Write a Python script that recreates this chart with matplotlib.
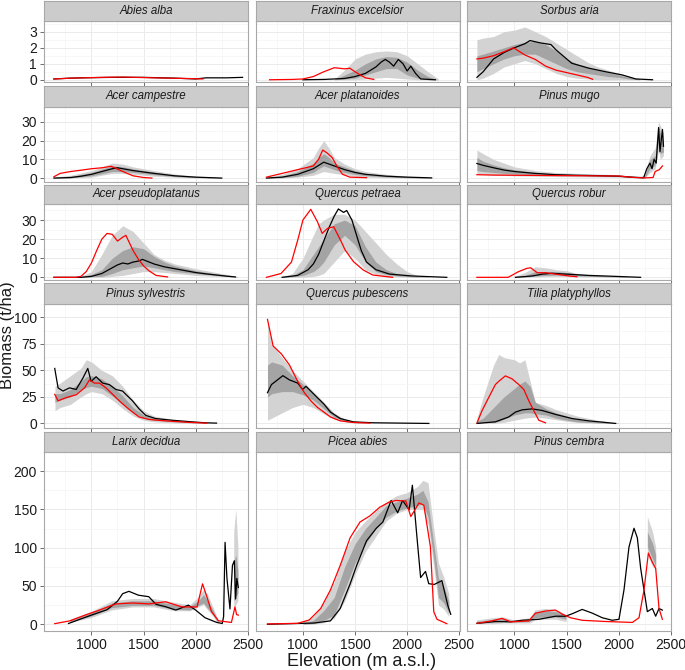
import numpy as np
import matplotlib
matplotlib.use("Agg")
import matplotlib.pyplot as plt

plt.rcParams["font.family"] = ["Liberation Sans", "DejaVu Sans"]

NAN = float("nan")

# (elevation, biomass) for the two model lines, and
# (elevation, outer low, inner low, inner high, outer high) for the bands
abies_black = [(640, 0.05), (800, 0.1), (900, 0.12), (1200, 0.15), (1500, 0.15), (1800, 0.1),
               (2000, 0.05), (2100, 0.12), (2300, 0.12), (2450, 0.15)]
abies_red = [(640, 0.05), (800, 0.1), (1100, 0.15), (1300, 0.17), (1600, 0.12), (1900, 0.08), (2070, 0.05)]
abies_band = []

fraxinus_black = [(1000, 0), (1200, 0.02), (1400, 0.08), (1500, 0.2), (1600, 0.4), (1700, 0.8), (1750, 1.1),
                  (1790, 1.27), (1830, 1.1), (1870, 0.85), (1915, 1.27), (1960, 1.0), (2000, 0.55),
                  (2035, 0.85), (2080, 0.4), (2130, 0.05), (2270, 0)]
fraxinus_red = [(680, 0), (900, 0.02), (1000, 0.05), (1100, 0.2), (1200, 0.5), (1300, 0.75), (1350, 0.72),
                (1400, 0.68), (1450, 0.72), (1500, 0.5), (1550, 0.3), (1600, 0.12), (1680, 0.02)]
fraxinus_band = [(1300, 0, 0, 0.02, 0.05), (1400, 0, 0.05, 0.3, 0.6), (1500, 0, 0.1, 0.6, 1.3),
                 (1600, 0.05, 0.3, 1.0, 1.6), (1700, 0.1, 0.5, 1.3, 1.75), (1800, 0.15, 0.7, 1.45, 1.8),
                 (1900, 0.1, 0.7, 1.4, 1.75), (2000, 0.05, 0.3, 1.1, 1.5), (2100, 0, 0.1, 0.6, 1.0),
                 (2200, 0, 0, 0.2, 0.5), (2300, 0, 0, 0, 0.05)]

sorbus_black = [(640, 0.15), (700, 0.5), (800, 1.3), (900, 1.7), (1000, 2.0), (1100, 2.25), (1150, 2.45),
                (1250, 2.3), (1350, 2.2), (1400, 1.86), (1550, 1.03), (1710, 0.73), (1875, 0.5),
                (2035, 0.3), (2165, 0.05), (2325, 0)]
sorbus_red = [(640, 1.3), (700, 1.35), (800, 1.5), (900, 1.75), (990, 2.0), (1100, 1.55), (1200, 1.27),
              (1300, 0.85), (1400, 0.6), (1500, 0.45), (1600, 0.3), (1700, 0.15), (1750, 0.03)]
sorbus_band = [(640, 0, 0.5, 1.5, 2.5), (700, 0.1, 0.7, 1.6, 2.6), (800, 0.4, 1.0, 1.8, 2.7),
               (900, 0.8, 1.3, 2.0, 3.0), (1000, 1.0, 1.5, 2.2, 3.1), (1100, 1.2, 1.6, 2.35, 3.3),
               (1200, 1.0, 1.6, 2.4, 3.0), (1300, 0.7, 1.3, 2.2, 2.7), (1400, 0.4, 1.0, 1.8, 2.3),
               (1500, 0.2, 0.7, 1.3, 1.9), (1600, 0.1, 0.5, 1.0, 1.5), (1700, 0.05, 0.4, 0.8, 1.1),
               (1800, 0, 0.3, 0.6, 0.8), (1900, 0, 0.2, 0.45, 0.6), (2000, 0, 0.15, 0.3, 0.4),
               (2100, 0, 0.05, 0.15, 0.2), (2200, 0, 0, 0.05, 0.05)]

campestre_black = [(640, 0), (800, 0.3), (900, 1), (1000, 2), (1100, 3.5), (1200, 5), (1250, 5.5),
                   (1400, 4), (1600, 2.5), (1800, 1.2), (2000, 0.5), (2250, 0)]
campestre_red = [(640, 0.7), (700, 2.5), (800, 3.5), (900, 4.2), (1000, 5.0), (1100, 5.5), (1190, 6.3),
                 (1250, 4.8), (1300, 3.5), (1400, 1.2), (1500, 0.3), (1580, 0)]
campestre_band = [(640, 0, 0, 0.2, 0.5), (800, 0, 0.1, 0.8, 1.5), (1000, 0.5, 1.2, 3, 4),
                  (1200, 2.5, 3.5, 6.5, 8), (1300, 2.5, 3.5, 6, 7.5), (1400, 2, 3, 5, 6),
                  (1600, 1, 1.8, 3.2, 4), (1800, 0.5, 0.8, 1.6, 2.2), (2000, 0.1, 0.3, 0.8, 1),
                  (2250, 0, 0, 0.1, 0.2)]

platanoides_black = [(650, 0), (800, 0.5), (950, 2), (1100, 5), (1200, 8.5), (1300, 6.5), (1400, 4.5),
                     (1500, 3), (1600, 2), (1800, 1), (2000, 0.5), (2235, 0.1)]
platanoides_red = [(650, 0.5), (800, 2.5), (950, 4.5), (1100, 6.5), (1150, 10), (1190, 15), (1230, 13.5),
                   (1280, 11), (1330, 6), (1380, 2), (1450, 0.5), (1610, 0.2)]
platanoides_band = [(650, 0, 0, 0.2, 0.5), (800, 0, 0.2, 1, 2), (950, 0.5, 1, 3.5, 5), (1100, 1.5, 3, 8, 11),
                    (1150, 2.5, 5, 11, 16), (1200, 3.5, 6.5, 13, 20), (1250, 3, 5.5, 11, 16),
                    (1300, 2.5, 4.5, 8, 11), (1400, 1.8, 3, 6, 7.5), (1500, 1, 2, 4, 5),
                    (1600, 0.5, 1.3, 2.6, 3.5), (1800, 0.2, 0.6, 1.3, 2), (2000, 0, 0.2, 0.7, 1),
                    (2235, 0, 0, 0.1, 0.2)]

mugo_black = [(640, 7.8), (700, 6.8), (800, 5.5), (900, 4.3), (1000, 3.5), (1100, 3.0), (1200, 2.5),
              (1400, 1.8), (1600, 1.5), (1800, 1.3), (2000, 1.0), (2100, 0.6), (2200, 0.3), (2240, 0.2),
              (2270, 5), (2300, 8), (2320, 5), (2340, 10), (2360, 8), (2383, 27), (2396, 14), (2420, 26),
              (2430, 17)]
mugo_red = [(640, 1.8), (800, 1.6), (1000, 1.5), (1500, 1.3), (2000, 1.1), (2150, 0.3), (2250, 0.1),
            (2330, 0.3), (2350, 3.5), (2390, 4.5), (2420, 6.5)]
mugo_band = [(640, 2, 4, 11, 15), (700, 2, 3.5, 9, 13), (800, 1.5, 3, 7, 10), (900, 1.5, 2.5, 5.5, 8),
             (1000, 1.2, 2.2, 4.5, 6), (1200, 1, 1.8, 3, 4), (1400, 0.8, 1.3, 2.2, 3),
             (1600, 0.7, 1.2, 1.8, 2.5), (2000, 0.5, 0.8, 1.3, 1.8), (2200, 0, 0.1, 0.4, 0.6),
             (2250, 0, 0, 1, 2), (2300, 3, 5, 10, 12), (2350, 5, 7, 12, 16), (2383, 15, 20, 28, 30),
             (2400, 10, 13, 24, 28), (2430, 12, 14, 20, 24)]

pseudoplatanus_black = [(640, 0), (900, 0), (1000, 0.5), (1100, 2), (1200, 5), (1250, 6.5), (1300, 7.5),
                        (1350, 7), (1400, 8), (1450, 8.5), (1490, 9.4), (1600, 7), (1700, 5.5), (1800, 4.5),
                        (1900, 3.5), (2000, 2.5), (2100, 1.8), (2200, 1.2), (2300, 0.6), (2380, 0.2)]
pseudoplatanus_red = [(640, 0), (850, 0), (900, 0.5), (950, 3), (1000, 7.5), (1050, 14), (1100, 20),
                      (1150, 23), (1200, 22.5), (1250, 19), (1300, 21), (1330, 22), (1400, 14), (1450, 9.5),
                      (1500, 6), (1550, 3.5), (1620, 1), (1730, 0.2)]
pseudoplatanus_band = [(900, 0, 0, 0.3, 0.5), (1000, 0, 0.3, 1.5, 3), (1100, 0, 0.5, 4, 12),
                       (1200, 0.5, 2, 10, 22), (1300, 1, 4, 14, 27), (1400, 2, 5, 16, 24),
                       (1500, 3, 6, 15, 18), (1600, 3, 5, 11, 12), (1700, 2.5, 4, 8, 9), (1800, 2, 3, 6, 7),
                       (2000, 1, 2, 3.5, 4.5), (2200, 0.5, 1, 1.8, 2.5), (2400, 0, 0.1, 0.3, 0.5)]

petraea_black = [(800, 0), (950, 1), (1050, 4), (1100, 7), (1150, 12), (1200, 19), (1250, 26), (1300, 32),
                 (1340, 35.8), (1390, 34), (1420, 35), (1470, 30), (1520, 21), (1560, 14), (1610, 8),
                 (1700, 4), (1830, 1.7), (2050, 0.7), (2380, 0)]
petraea_red = [(650, 0), (790, 2), (890, 8), (950, 19.5), (1000, 30), (1075, 35.6), (1140, 29), (1185, 23),
               (1235, 25.6), (1295, 26.5), (1360, 19.5), (1405, 14.3), (1485, 8.2), (1580, 3.8),
               (1670, 1.2), (1860, 0)]
petraea_band = [(800, 0, 0, 0.3, 0.5), (900, 0, 0.3, 1, 2), (1000, 0, 1, 4, 10), (1100, 0.5, 3, 12, 22),
                (1150, 1, 5, 16, 28), (1200, 2, 8, 20, 30), (1300, 8, 17, 28, 33), (1400, 14, 22, 30, 33),
                (1500, 10, 17, 27, 30), (1600, 4, 8, 16, 24), (1700, 1.5, 3, 8, 18),
                (1800, 0.5, 1.5, 4, 12), (1900, 0.2, 0.8, 2, 7), (2000, 0, 0.4, 1, 3),
                (2100, 0, 0.1, 0.4, 1), (2200, 0, 0, 0.1, 0.3)]

robur_black = [(1010, 0), (1170, 0.7), (1270, 1.7), (1360, 2.1), (1490, 1.7), (1715, 1.0), (1970, 0.5),
               (2210, 0)]
robur_red = [(640, 0), (940, 0), (1040, 3), (1120, 4.7), (1155, 5), (1220, 2.4), (1300, 2.4), (1395, 1.7),
             (1520, 0.7), (1600, 0.3)]
robur_band = [(1000, 0, 0, 0.2, 0.5), (1100, 0, 0.2, 1, 2.5), (1200, 0.2, 0.6, 3, 5.5), (1300, 0.4, 1, 3, 5),
              (1400, 0.5, 1.2, 3, 4), (1500, 0.4, 1, 2.5, 3.5), (1600, 0.3, 0.8, 1.8, 2),
              (1700, 0.2, 0.6, 1.3, 1.5), (1900, 0.1, 0.3, 0.7, 0.8), (2100, 0, 0.1, 0.2, 0.3)]

sylvestris_black = [(648, 51.8), (680, 33.5), (727, 30.5), (790, 33.5), (854, 32), (918, 42.7), (965, 51.8),
                    (997, 39.6), (1045, 44), (1108, 38), (1172, 36.6), (1235, 32), (1299, 30.5),
                    (1330, 27.4), (1394, 21.3), (1457, 13.7), (1521, 7.6), (1616, 4.6), (1775, 3),
                    (1965, 1.5), (2092, 0.6), (2200, 0.3)]
sylvestris_red = [(648, 27.4), (680, 21.3), (759, 24.4), (854, 27), (934, 33.5), (981, 41), (1029, 38),
                  (1077, 38), (1140, 33.5), (1204, 27.4), (1267, 21.3), (1330, 15.8), (1394, 10.7),
                  (1457, 6.1), (1553, 3.7), (1712, 2.4), (1902, 1.2), (2029, 0.6), (2108, 0.3)]
sylvestris_band = [(650, 12, 20, 28, 35), (700, 15, 22, 28, 38), (800, 18, 25, 32, 45), (900, 25, 32, 40, 52),
                   (950, 28, 34, 44, 60), (1000, 30, 35, 45, 58), (1100, 28, 33, 42, 50),
                   (1200, 22, 26, 35, 45), (1300, 14, 18, 26, 35), (1400, 7, 10, 15, 22), (1500, 3, 5, 8, 12),
                   (1600, 1.5, 3, 5, 7), (1800, 0.5, 1.5, 2.5, 3.5), (2000, 0, 0.5, 1, 1.5),
                   (2100, 0, 0.2, 0.5, 0.7)]

pubescens_black = [(660, 29), (698, 36.6), (808, 45), (871, 41), (950, 38), (997, 32), (1029, 35),
                   (1107, 27.4), (1201, 18.3), (1264, 10.7), (1358, 4.6), (1484, 1.5), (1673, 0.6), (2208, 0)]
pubescens_red = [(660, 98), (714, 73), (793, 65.5), (871, 55), (950, 39.6), (1013, 29), (1076, 21.3),
                 (1138, 15.2), (1201, 10.7), (1264, 6.1), (1358, 2.4), (1484, 0.9), (1642, 0.3)]
pubescens_band = [(660, 3, 25, 55, 95), (700, 5, 28, 58, 75), (800, 10, 30, 55, 62), (900, 15, 30, 45, 50),
                  (1000, 18, 27, 37, 40), (1100, 15, 22, 28, 30), (1200, 9, 14, 19, 20), (1300, 4, 6, 9, 10),
                  (1400, 1.5, 2, 3.5, 4), (1500, 0.5, 0.7, 1.2, 1.5), (1600, 0, 0.2, 0.4, 0.5)]

tilia_black = [(641, 0), (817, 1.5), (945, 6.1), (1010, 10.7), (1074, 12.8), (1170, 13.7), (1266, 12.2),
               (1394, 8.5), (1554, 4.6), (1715, 2.4), (1875, 0.9), (1971, 0)]
tilia_red = [(641, 0.6), (689, 12), (753, 24.4), (817, 36.6), (849, 39.6), (913, 44.8), (977, 42),
             (1042, 36.6), (1090, 32), (1138, 21.3), (1186, 12), (1234, 3), (1298, 0.6)]
tilia_band = [(640, 0, 0, 2, 5), (700, 0, 1, 5, 25), (800, 0, 1, 15, 55), (850, 0.5, 2, 20, 65),
              (900, 1, 4, 25, 62), (1000, 3, 8, 33, 60), (1050, 4, 9, 37, 57), (1100, 5, 10, 40, 60),
              (1150, 5.5, 10, 35, 40), (1200, 6, 9, 20, 20), (1300, 5, 8, 14, 17), (1400, 3.5, 5, 10, 13),
              (1500, 2, 3, 7, 10), (1600, 1, 1.5, 4, 7), (1700, 0.5, 1, 2.5, 5), (1800, 0.2, 0.5, 1.5, 3),
              (1900, 0, 0.2, 0.7, 1.5), (2000, 0, 0, 0.2, 0.5)]

larix_black = [(780, 1), (850, 4.5), (1000, 12), (1150, 19), (1250, 30), (1300, 40), (1360, 43), (1450, 38),
               (1550, 36), (1620, 26), (1710, 23), (1810, 18.5), (1930, 25), (2000, 18.5), (2090, 8.5),
               (2200, 2.5), (2255, 1), (2268, 10), (2282, 107), (2300, 60), (2329, 20), (2353, 77),
               (2371, 83), (2383, 33), (2395, 60), (2409, 48)]
larix_red = [(648, 0.8), (791, 4.4), (950, 12.5), (1076, 18.5), (1235, 26.6), (1394, 27.8), (1553, 26.6),
             (1711, 29.4), (1870, 22.6), (2013, 22.6), (2066, 52.8), (2105, 37), (2152, 16.5), (2219, 4.5),
             (2343, 2.4), (2377, 22.6), (2393, 12.5), (2410, 12)]
larix_band = [(800, 2, 3, 5, 6), (1000, 8, 10, 14, 16), (1200, 18, 21, 27, 30), (1400, 22, 24, 30, 33),
              (1600, 22, 24, 30, 33), (1800, 17, 19, 25, 28), (1950, 17, 18, 23, 25), (2030, 22, 24, 30, 35),
              (2080, 25, 27, 38, 45), (2120, 18, 20, 30, 38), (2170, 10, 12, 18, 22), (2220, 0, 1, 3, 5),
              (2300, NAN, NAN, NAN, NAN), (2370, 20, 30, 80, 120), (2390, 25, 35, 90, 150),
              (2410, 30, 40, 70, 100)]

picea_black = [(660, 0), (1107, 1.6), (1264, 4.4), (1358, 20.6), (1453, 52.8), (1516, 77), (1610, 109),
               (1704, 125.4), (1767, 133.5), (1846, 161.7), (1909, 145.6), (1956, 161.7), (2019, 149.6),
               (2050, 181.6), (2097, 109), (2129, 61), (2176, 69), (2207, 53), (2260, 52), (2333, 57),
               (2389, 25), (2418, 13)]
picea_red = [(660, 0.4), (950, 1.2), (1060, 5.6), (1170, 20.6), (1264, 44.8), (1358, 77), (1453, 113),
             (1547, 133.5), (1642, 141.5), (1736, 152.8), (1830, 159.7), (1893, 161.7), (1987, 161),
             (2035, 140.7), (2066, 147.6), (2113, 158.5), (2160, 155.6), (2223, 101), (2255, 16.5),
             (2286, 6.5), (2380, 0.8)]
picea_band = [(1000, 0, 0, 1, 3), (1100, 0, 1, 5, 10), (1200, 2, 5, 18, 28), (1300, 8, 12, 35, 55),
              (1400, 30, 45, 75, 95), (1500, 65, 80, 105, 120), (1600, 95, 105, 125, 135),
              (1700, 115, 125, 140, 148), (1800, 135, 140, 155, 160), (1900, 145, 148, 160, 168),
              (2000, 150, 152, 165, 172), (2100, 150, 155, 170, 180), (2150, 150, 158, 175, 188),
              (2200, 130, 140, 160, 185), (2250, 80, 90, 110, 130), (2300, 25, 35, 60, 80),
              (2350, 20, 28, 50, 62), (2400, 10, 15, 30, 40)]

cembra_black = [(641, 1.2), (817, 3.6), (962, 3.2), (1074, 5.2), (1234, 6.5), (1394, 10.5), (1490, 10.5),
                (1554, 13.7), (1650, 19.4), (1747, 14.5), (1843, 8.5), (1939, 5.2), (2003, 6.5), (2051, 44.8),
                (2099, 101), (2147, 125.4), (2179, 113), (2211, 73), (2243, 44.8), (2275, 16.5),
                (2323, 20.6), (2355, 10.5), (2387, 20.6), (2419, 18.5)]
cembra_red = [(641, 1.2), (785, 4.4), (881, 7.7), (962, 3.2), (1138, 4.4), (1202, 14.5), (1298, 17.3),
              (1394, 18.5), (1458, 13.3), (1538, 8.5), (1650, 5.2), (1875, 3.6), (2131, 2.4), (2195, 8.5),
              (2243, 44.8), (2285, 93), (2323, 81), (2355, 73), (2387, 20.6), (2419, 6.5)]
cembra_band = [(640, 0, 0.5, 3, 5), (800, 0, 2, 6, 8), (900, 1, 3, 7, 9), (1000, 1, 2, 4, 5),
               (1150, 1, 3, 6, 8), (1200, 5, 8, 15, 18), (1300, 6, 9, 17, 20), (1400, 6, 9, 16, 19),
               (1500, 3, 6, 10, 12), (1900, NAN, NAN, NAN, NAN), (2280, 90, 100, 120, 140),
               (2330, 75, 85, 105, 120), (2360, 70, 75, 90, 100)]

species = [
    ["Abies alba", "Fraxinus excelsior", "Sorbus aria"],
    ["Acer campestre", "Acer platanoides", "Pinus mugo"],
    ["Acer pseudoplatanus", "Quercus petraea", "Quercus robur"],
    ["Pinus sylvestris", "Quercus pubescens", "Tilia platyphyllos"],
    ["Larix decidua", "Picea abies", "Pinus cembra"],
]
panels = [
    [(abies_black, abies_red, abies_band), (fraxinus_black, fraxinus_red, fraxinus_band),
     (sorbus_black, sorbus_red, sorbus_band)],
    [(campestre_black, campestre_red, campestre_band), (platanoides_black, platanoides_red, platanoides_band),
     (mugo_black, mugo_red, mugo_band)],
    [(pseudoplatanus_black, pseudoplatanus_red, pseudoplatanus_band),
     (petraea_black, petraea_red, petraea_band), (robur_black, robur_red, robur_band)],
    [(sylvestris_black, sylvestris_red, sylvestris_band), (pubescens_black, pubescens_red, pubescens_band),
     (tilia_black, tilia_red, tilia_band)],
    [(larix_black, larix_red, larix_band), (picea_black, picea_red, picea_band),
     (cembra_black, cembra_red, cembra_band)],
]
row_yticks = [[0, 1, 2, 3], [0, 10, 20, 30], [0, 10, 20, 30], [0, 25, 50, 75, 100], [0, 50, 100, 150, 200]]
row_ylims = [(-0.14, 3.67), (-2.1, 38), (-1.4, 38.4), (-4.3, 109.2), (-8.8, 207.4)]
x_ticks = [1000, 1500, 2000, 2500]

# layout in pixels (top-left origin)
W, H = 685, 670
col_left = [44, 255.5, 467]
col_w = 204
row_box = [(1, 21, 82), (86, 107, 182), (185, 204, 280), (283, 304, 428), (432, 452, 631)]

fig = plt.figure(figsize=(W / 100, H / 100), dpi=100)
fig.patch.set_facecolor("white")

border = "#a8a8a8"
txt = "#1a1a1a"

for r in range(5):
    s_top, p_top, p_bot = row_box[r]
    for c in range(3):
        black, red, band = panels[r][c]
        left = col_left[c]
        ax = fig.add_axes([left / W, (H - p_bot) / H, col_w / W, (p_bot - p_top) / H])
        ax.set_facecolor("white")

        if band:
            b = np.array(band, dtype=float)
            bx = b[:, 0]
            olo, ilo, ihi, ohi = (np.ma.masked_invalid(b[:, k]) for k in range(1, 5))
            ax.fill_between(bx, olo, ohi, color="#d3d3d3", lw=0, zorder=1)
            ax.fill_between(bx, ilo, ihi, color="#a4a4a4", lw=0, zorder=2)

        bl = np.array(black, dtype=float)
        rd = np.array(red, dtype=float)
        ax.plot(bl[:, 0], bl[:, 1], color="black", lw=0.9, zorder=3)
        ax.plot(rd[:, 0], rd[:, 1], color="#ff0000", lw=0.9, zorder=4)

        ax.set_xlim(545, 2502)
        ax.set_ylim(*row_ylims[r])
        ax.set_xticks(x_ticks)
        ax.set_xticks([750, 1250, 1750, 2250], minor=True)
        yt = row_yticks[r]
        ax.set_yticks(yt)
        ax.set_yticks([v + (yt[1] - yt[0]) / 2 for v in yt], minor=True)
        ax.grid(which="major", color="#ebebeb", lw=0.7, zorder=0)
        ax.grid(which="minor", color="#f4f4f4", lw=0.5, zorder=0)
        ax.set_axisbelow(True)
        ax.tick_params(which="minor", length=0)
        ax.tick_params(which="major", length=3, width=0.6, color="#555555",
                       labelsize=10, labelcolor=txt, pad=2)
        if c != 0:
            ax.tick_params(axis="y", left=False, labelleft=False)
        if r != 4:
            ax.tick_params(axis="x", labelbottom=False)
        for sp in ax.spines.values():
            sp.set_color(border)
            sp.set_linewidth(0.8)

        # strip
        sax = fig.add_axes([left / W, (H - p_top) / H, col_w / W, (p_top - s_top) / H])
        sax.set_facecolor("#cccccc")
        sax.set_xticks([])
        sax.set_yticks([])
        for sp in sax.spines.values():
            sp.set_color(border)
            sp.set_linewidth(0.8)
        sax.text(0.5, 0.5, species[r][c], ha="center", va="center", fontsize=8.3,
                 style="italic", color=txt, transform=sax.transAxes)

fig.text(362 / W, 1 - 661 / H, "Elevation (m a.s.l.)", ha="center", va="center",
         fontsize=13, color=txt)
fig.text(8 / W, 1 - 335 / H, "Biomass (t/ha)", ha="center", va="center",
         rotation=90, fontsize=12, color=txt)

fig.savefig("out.png", dpi=100)
